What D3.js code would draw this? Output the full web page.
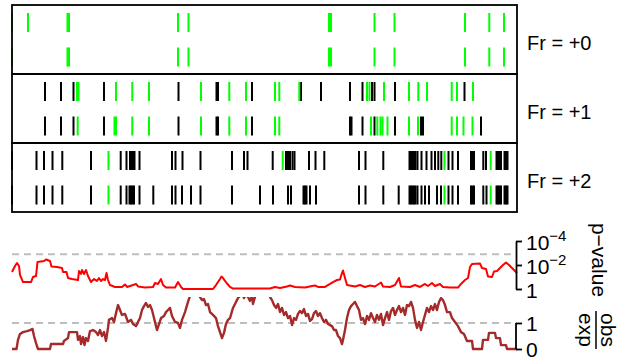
<!DOCTYPE html>
<html><head><meta charset="utf-8">
<script src="https://cdn.jsdelivr.net/npm/d3@7"></script>
<style>
body{margin:0;background:#fff}
svg{display:block}
text{font-family:"Liberation Sans",Arial,Helvetica,sans-serif;fill:#000}
</style>
</head><body>
<svg id="c" width="626" height="363"></svg>
<script>
// ---------------- DATA ----------------
const SEQ_LEN = 505;
const frameLabels = ["Fr = +0", "Fr = +1", "Fr = +2"];

// Frame +0
const fr0Row1Black = [];
const fr0Row1Green = [0, 16, 55.5, 57, 166, 176.5, 317, 319, 362.5, 382.5, 453, 477.3, 492];
const fr0Row2Black = [];
const fr0Row2Green = [0, 55.5, 57, 166, 176.5, 317, 319, 362.5, 382.5, 453, 477.3, 492];

// Frame +1
const fr1Row1Black = [33, 49, 61.5, 92, 166.5, 204.5, 206, 240, 289, 309, 338, 350.5, 360, 362.5, 383, 452.5];
const fr1Row1Green = [65, 66.5, 104, 120.3, 137, 189, 217.3, 234, 263, 267.3, 287.3, 355, 357.5, 372, 397, 406.3, 415, 439.7, 445, 461];
const fr1Row2Black = [33, 49, 61.5, 92, 166.5, 204.5, 206, 240, 338, 339.5, 350.5, 362.5, 383, 409, 411, 469];
const fr1Row2Green = [65.7, 102.5, 104, 120.3, 137, 189, 217.3, 234, 263, 267.3, 359, 365.3, 368.5, 370.5, 375.5, 397, 406, 439.7, 445, 451.5, 460.5];

// Frame +2
const fr2Row1Black = [0, 24.5, 32, 40.5, 50.3, 79, 108.7, 114.5, 118, 119.5, 121, 122.5, 127.5, 160, 163.5, 170.5, 188.5, 220, 232, 235.5, 260.7, 274, 276, 278, 280.5, 282.5, 297, 303.5, 312.3, 347, 353.5, 371.3, 397.5, 399, 400.5, 402, 403.5, 405.5, 409.5, 414.5, 419.5, 423, 426.3, 429.3, 436.5, 440.5, 446, 459, 460.5, 462, 471.3, 474, 484.5, 486, 487.5, 489, 492.5, 494, 495.5];
const fr2Row1Green = [96.5, 270.7, 432.5, 478.7];
const fr2Row2Black = [0, 24.5, 32, 40.5, 50.3, 79, 108.7, 114.5, 117.5, 119, 120.5, 122, 127.5, 141.3, 160, 163.5, 170, 179, 188.5, 220, 248, 261, 276, 279, 291.5, 293, 294.5, 298, 304, 347, 353.5, 371.3, 386.7, 397.5, 399, 400.5, 402, 403.5, 405.5, 409.5, 413, 417, 425, 429, 436.5, 440.5, 446, 459, 460.5, 462, 471.3, 474.5, 484.5, 486, 487.5, 489, 492.5, 494, 495.5];
const fr2Row2Green = [96.5, 432.5, 478.7];

// p-value trace: position and -log10(p)
const pvalPos = [0,3,5,7,8,11,19,21,24,25.5,32,34,38,39.5,45,50,51,54.5,56,60,66,67,69,70,72,74,76,79,82,85,87,89,91,93,94.5,96,98,103,110,113,115,121,124,126,133,141,143,146,149,151,154,163,166,169,171,201,204,206,208,209.5,211,213,215,218,221,258,263,268,275,278,283,293,300,303,306,313,318,321,325,328,330,331,333,335,343,348,353,358,363,369,371,378,383,387,389,398,403,408,413,416,420,423,428,431,438,446,449,453,456,458,460,468,470,474,476,480,482,485,488,491,494,497,500,502,505];
const pvalNegLog = [1.42,1.92,2.17,1.92,1.17,0.58,0.58,1.0,1.08,2.25,2.33,2.46,2.33,1.88,1.83,1.75,1.42,1.42,0.92,0.83,0.75,1.5,1.25,1.58,1.25,1.58,1.08,0.58,0.83,0.67,0.92,0.67,0.83,0.75,1.33,0.75,0.33,0.17,0.17,0.38,0.17,0.33,0.42,0.21,0.12,0.17,0.5,0.42,0.83,0.33,0.12,0.12,0.58,0.17,0,0,0.33,0.58,0.83,1.04,0.92,0.67,0.46,0.17,0.04,0.04,0.17,0.08,0.21,0.29,0.17,0.12,0.25,0.29,0.17,0.17,0.42,0.58,0.75,0.79,1.33,1.54,0.92,0.33,0.21,0.33,0.17,0.29,0.21,0.54,0.21,0.17,0.33,0.92,0.21,0.17,0.33,0.17,0.42,0.25,0.5,0.25,0.42,0.17,0.12,0.12,0.42,0.75,0.92,1.83,2.08,2.12,1.75,1.67,1.04,1.0,1.46,1.5,1.75,2.0,2.21,2.0,1.75,1.58,1.33];
const pvalThreshold = 2.9;

// observed / expected trace
const ratioPos = [0,4.5,6,8,11,15,18,20.5,22,24,26,38,39,51,52,56,57,65,66,68,69,71,72.5,74,76,78,81,84,86,88,90,92,94,96,97,100,102,104,106,108,110,113,116,119,121,124,126,128,130,132,134,136,138,140,142,144,145,147,149,152,154,156,158,160,163,166,168,170,173,176,178,179,187,188,190,192,194,196,198,201,204,206,208,210,212,214,216,218,221,224,226,228,230,232,234,236,238,240,241,243,245,247,256,258,260,262,264,266,268,270,272,274,276,278,280,282,284,286,288,290,292,294,296,298,300,302,304,306,308,310,312,314,316,318,320,322,324,326,328,330,331,333,335,337,339,341,343,345,347,349,351,353,355,357,359,361,363,365,367,369,371,373,375,377,379,381,383,385,387,389,391,393,395,397,399,401,403,405,407,409,411,413,415,417,419,421,423,425,427,429,431,433,435,438,440,443,446,449,452,455,460,461,470,471,476,477,483,484,488,489,494,495,505];
const ratioVal = [0,0,0.35,0.58,0.65,0.69,0.73,0.77,0.5,0.23,0,0,0.19,0.19,0.31,0.42,0.65,0.65,0.35,0.5,0.19,0.46,0.15,0.42,0.31,0.69,0.73,0.65,0.54,0.73,0.5,0.65,0.31,0.81,1.12,1.19,1.04,1.38,1.69,1.5,1.31,1.35,1.04,1.12,0.96,0.88,1.04,1.19,1.5,1.65,1.77,1.62,1.69,1.5,1.19,0.88,0.73,0.96,1.19,1.27,1.42,1.5,1.58,1.27,1.04,1.0,0.81,1.12,1.42,1.81,2.04,2.3,2.3,2.0,1.88,1.92,1.69,1.73,1.42,1.31,1.19,0.88,0.65,0.42,0.62,0.96,1.12,1.19,1.58,1.81,1.96,2.04,2.2,1.96,2.12,2.0,1.85,2.04,1.73,2.0,2.2,2.3,2.3,2.0,1.88,1.69,1.58,1.73,1.42,1.58,1.31,1.42,1.19,1.27,0.92,1.19,1.12,1.35,1.46,1.38,1.54,1.27,1.35,1.08,1.15,1.38,1.46,1.27,1.38,1.19,1.04,1.12,0.96,0.92,0.88,0.73,0.73,0.5,0.42,0.19,0.35,0.73,1.19,1.5,1.65,1.73,1.81,1.65,1.5,1.12,1.19,0.96,1.27,1.12,1.38,1.19,1.04,1.31,1.12,1.35,0.92,1.19,1.42,1.12,1.46,1.58,1.31,1.5,1.65,1.42,1.58,1.31,1.69,1.65,1.81,1.58,1.12,0.81,1.04,0.73,1.04,1.31,1.58,1.42,1.65,1.5,1.73,1.5,1.81,1.96,1.88,1.69,1.42,1.42,1.19,1.04,0.88,0.65,0.58,0.31,0.31,0,0,0.35,0.35,0.62,0.62,0.42,0.42,0.15,0.15,0,0];
const ratioRef = 1;

// axis ticks
const pTickVals = [0, 2, 4];
const pTickBase = ["1", "10", "10"];
const pTickSup  = ["", "\u22122", "\u22124"];
const rTickVals = [0, 1];
const rTickLabels = ["0", "1"];

// ---------------- DRAW ----------------
const svg = d3.select("#c");
const GREEN = "#00ff00", RED = "#ff0000", BROWN = "#a52a2a", GREY = "#bebebe";

const x = d3.scaleLinear().domain([0, SEQ_LEN]).range([12, 517]);
const band = d3.scaleBand().domain(frameLabels).range([5, 212]);
const rowScale = d3.scalePoint().domain([0, 1]).range([17.5, 52]);
const TICK_H = 19;

const frames = [
  {label: frameLabels[0], rows: [{black: fr0Row1Black, green: fr0Row1Green}, {black: fr0Row2Black, green: fr0Row2Green}]},
  {label: frameLabels[1], rows: [{black: fr1Row1Black, green: fr1Row1Green}, {black: fr1Row2Black, green: fr1Row2Green}]},
  {label: frameLabels[2], rows: [{black: fr2Row1Black, green: fr2Row1Green}, {black: fr2Row2Black, green: fr2Row2Green}]}
];

frames.forEach(f => {
  const top = band(f.label);
  const g = svg.append("g");
  f.rows.forEach((r, i) => {
    const cy = top + rowScale(i);
    [["black", "#000"], ["green", GREEN]].forEach(([k, col]) => {
      g.selectAll(null).data(r[k]).enter().append("line")
        .attr("x1", d => x(d)).attr("x2", d => x(d))
        .attr("y1", cy - TICK_H / 2).attr("y2", cy + TICK_H / 2)
        .attr("stroke", col).attr("stroke-width", 2);
    });
  });
  g.append("rect").attr("x", x(0)).attr("y", top)
    .attr("width", x(SEQ_LEN) - x(0)).attr("height", band.bandwidth())
    .attr("fill", "none").attr("stroke", "#000").attr("stroke-width", 1.8);
  g.append("text").attr("x", 527).attr("y", top + band.bandwidth() / 2 + 10)
    .attr("font-size", 20).text(f.label);
});

// p-value panel
const pY = d3.scaleLinear().domain([0, 4]).range([289, 241]);
svg.append("line").attr("x1", x(0)).attr("x2", x(SEQ_LEN))
  .attr("y1", pY(pvalThreshold)).attr("y2", pY(pvalThreshold))
  .attr("stroke", GREY).attr("stroke-width", 2).attr("stroke-dasharray", "7,5");
const pLine = d3.line().x((d, i) => x(pvalPos[i])).y(d => pY(d));
svg.append("path").attr("d", pLine(pvalNegLog)).attr("fill", "none")
  .attr("stroke", RED).attr("stroke-width", 2).attr("stroke-linejoin", "round");

const pAxis = svg.append("g").attr("transform", `translate(${x(SEQ_LEN) - 1},0)`)
  .call(d3.axisRight(pY).tickValues(pTickVals).tickSize(6).tickSizeOuter(0).tickFormat(""));
pAxis.selectAll("path,line").attr("stroke", "#000").attr("stroke-width", 1.8);
pTickVals.forEach((v, i) => {
  const t = svg.append("text").attr("x", 526).attr("y", pY(v) + 9).attr("font-size", 21);
  t.append("tspan").text(pTickBase[i]);
  if (pTickSup[i]) t.append("tspan").attr("font-size", 15).attr("dy", -9).text(pTickSup[i]);
});

// obs/exp panel
const rY = d3.scaleLinear().domain([0, 2]).range([349, 297]);
svg.append("defs").append("clipPath").attr("id", "rclip")
  .append("rect").attr("x", x(0)).attr("y", rY(2)).attr("width", x(SEQ_LEN) - x(0)).attr("height", 60);
svg.append("line").attr("x1", x(0)).attr("x2", x(SEQ_LEN))
  .attr("y1", rY(ratioRef)).attr("y2", rY(ratioRef))
  .attr("stroke", GREY).attr("stroke-width", 2).attr("stroke-dasharray", "7,5");
const rLine = d3.line().x((d, i) => x(ratioPos[i])).y(d => rY(d));
svg.append("path").attr("d", rLine(ratioVal)).attr("fill", "none").attr("clip-path", "url(#rclip)")
  .attr("stroke", BROWN).attr("stroke-width", 2.4).attr("stroke-linejoin", "round");

const rAxis = svg.append("g").attr("transform", `translate(${x(SEQ_LEN) - 1},0)`)
  .call(d3.axisRight(rY).tickValues(rTickVals).tickSize(6).tickSizeOuter(0).tickFormat(""));
rAxis.select("path.domain").remove();
rAxis.append("line").attr("x1", 0).attr("x2", 0).attr("y1", rY(0)).attr("y2", rY(1));
rAxis.selectAll("line").attr("stroke", "#000").attr("stroke-width", 1.8);
rTickVals.forEach((v, i) => {
  svg.append("text").attr("x", 526).attr("y", rY(v) + 8).attr("font-size", 21).text(rTickLabels[i]);
});

// rotated axis titles
svg.append("text").attr("transform", "translate(592,260) rotate(90)")
  .attr("text-anchor", "middle").attr("font-size", 21).text("p\u2212value");
const fr = svg.append("g").attr("transform", "translate(596,330) rotate(90)");
fr.append("text").attr("text-anchor", "middle").attr("y", -5).attr("font-size", 21).text("obs");
fr.append("text").attr("text-anchor", "middle").attr("y", 17).attr("font-size", 21).text("exp");
fr.append("line").attr("x1", -19).attr("x2", 19).attr("y1", 0).attr("y2", 0)
  .attr("stroke", "#000").attr("stroke-width", 1.5);
</script>
</body></html>
